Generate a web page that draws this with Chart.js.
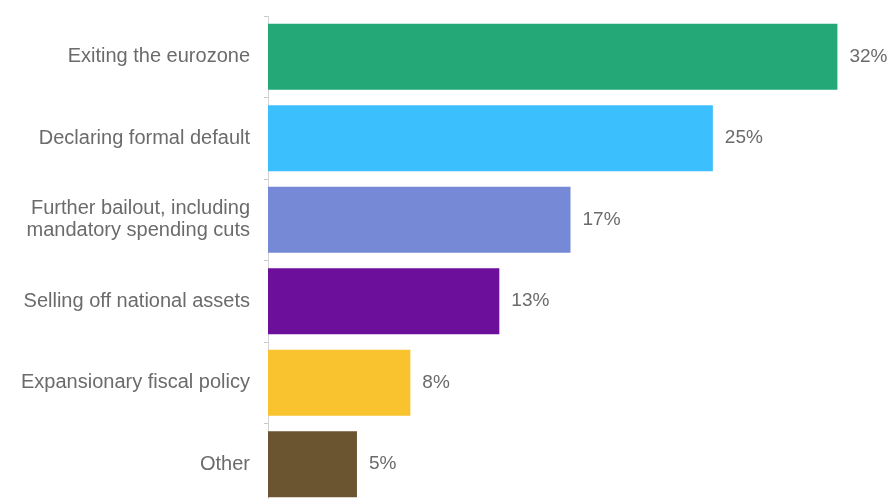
<!DOCTYPE html>
<html>
<head>
<meta charset="utf-8">
<title>Options</title>
<script src="https://cdn.jsdelivr.net/npm/chart.js@4/dist/chart.umd.min.js"></script>
<style>
  html, body { margin: 0; padding: 0; background: #fff; overflow: hidden; }
  #wrap { position: relative; width: 891px; height: 505px; }
</style>
</head>
<body>
<div id="wrap"><canvas id="chart"></canvas></div>
<script>
// data
const categories = [
  "Exiting the eurozone",
  "Declaring formal default",
  ["Further bailout, including", "mandatory spending cuts"],
  "Selling off national assets",
  "Expansionary fiscal policy",
  "Other"
];
const shares = [32, 25, 17, 13, 8, 5];
const barColors = ["#25a878", "#3cc0fd", "#7689d6", "#6c0f9a", "#f9c32f", "#6b5531"];

const textGrey = "#6b6b6b";
const fontFam = "'Liberation Sans', Arial, sans-serif";

// value labels at the end of each bar
const valueLabels = {
  id: "valueLabels",
  afterDatasetsDraw(chart) {
    const ctx = chart.ctx;
    const meta = chart.getDatasetMeta(0);
    ctx.save();
    ctx.font = "19px " + fontFam;
    ctx.fillStyle = textGrey;
    ctx.textAlign = "left";
    ctx.textBaseline = "middle";
    meta.data.forEach((bar, i) => {
      ctx.fillText(shares[i] + "%", bar.x + 12, bar.y);
    });
    ctx.restore();
  }
};

new Chart(document.getElementById("chart"), {
  type: "bar",
  data: {
    labels: categories,
    datasets: [{
      data: shares,
      backgroundColor: barColors,
      borderWidth: 0,
      categoryPercentage: 0.81,
      barPercentage: 1
    }]
  },
  options: {
    indexAxis: "y",
    responsive: true,
    maintainAspectRatio: false,
    animation: false,
    layout: { padding: { top: 16, right: 18, bottom: 0, left: 0 } },
    plugins: {
      legend: { display: false },
      tooltip: { enabled: false }
    },
    scales: {
      x: {
        display: false,
        min: 0,
        max: 34
      },
      y: {
        afterFit(scale) {
          scale.width = 268;
          scale.paddingTop = 0;
          scale.paddingBottom = 0;
        },
        border: { display: true, color: "#d3d3d3", width: 1 },
        grid: {
          offset: true,
          drawOnChartArea: false,
          drawTicks: true,
          tickLength: 4,
          color: "#c8c8c8"
        },
        ticks: {
          color: textGrey,
          padding: 14,
          font: { family: fontFam, size: 20, lineHeight: 1.1 }
        }
      }
    }
  },
  plugins: [valueLabels]
});
</script>
</body>
</html>
